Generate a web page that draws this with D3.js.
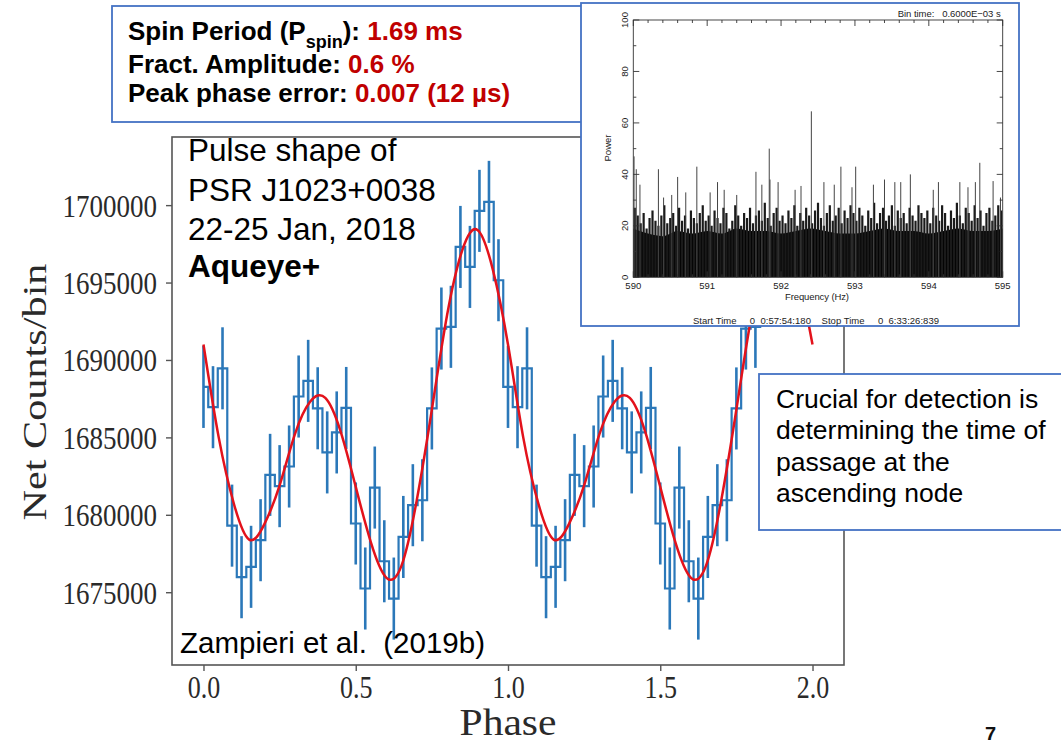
<!DOCTYPE html>
<html>
<head>
<meta charset="utf-8">
<script src="https://cdn.jsdelivr.net/npm/d3@7/dist/d3.min.js"></script>
<style>
  html, body { margin: 0; padding: 0; background: #fff; }
  svg { display: block; }
  text { white-space: pre; }
</style>
</head>
<body>
<svg id="slide" width="1061" height="740"></svg>
<script>
// ---------- Pulse profile of PSR J1023+0038 (Aqueye+, 22-25 Jan 2018) ----------
// Net counts in each of the 32 phase bins of one rotation; the profile is shown twice.
const binCounts = [
  1688260, 1686950, 1689460, 1679300, 1675970, 1676640, 1678360, 1682580,
  1681850, 1683120, 1687640, 1688650, 1686880, 1684030, 1685320, 1686900,
  1679440, 1675240, 1681760, 1677000, 1674590, 1678570, 1680620, 1680940,
  1686870, 1692030, 1692140, 1697300, 1696010, 1699630, 1700210, 1695150
];
const countError = 2650;          // 1-sigma error of every bin
const cycles = [0, 1];            // rotations drawn

// Two-harmonic fit to the profile, sampled along one cycle
const fitPhase = [0, 0.05, 0.10, 0.15, 0.20, 0.25, 0.30, 0.35, 0.40, 0.45,
                  0.50, 0.55, 0.60, 0.65, 0.70, 0.75, 0.80, 0.85, 0.90, 0.95];
const fitCounts = [1691000, 1685000, 1680700, 1678400, 1679400, 1681900, 1685200, 1687300, 1687550, 1685400,
                   1681800, 1678200, 1675950, 1676700, 1680900, 1686800, 1692900, 1697100, 1698400, 1695850];

const countTicks = [1675000, 1680000, 1685000, 1690000, 1695000, 1700000];
const phaseTicks = [0.0, 0.5, 1.0, 1.5, 2.0];

// ---------- Power spectrum around the spin frequency ----------
const freqStart = 590, freqEnd = 595, freqStep = 0.04;
// bulk of the noise spectrum, one value per 0.04 Hz
const powerForest = [
  27, 24, 21, 25, 19, 23, 26, 22, 20, 24, 28, 21, 23, 25, 20, 27, 22, 24, 19, 26, 23, 21, 25, 28, 22,
  24, 20, 26, 23, 21, 27, 25, 19, 22, 28, 24, 20, 25, 23, 27, 21, 24, 26, 22, 29, 23, 20, 25, 27, 22,
  24, 21, 26, 23, 28, 20, 25, 22, 27, 24, 21, 26, 29, 23, 20, 25, 28, 22, 24, 27, 21, 26, 23, 28, 25,
  22, 27, 24, 20, 26, 23, 29, 21, 25, 27, 22, 24, 28, 20, 26, 23, 25, 21, 27, 24, 22, 28, 25, 23, 26,
  21, 27, 24, 22, 28, 25, 20, 26, 23, 29, 24, 21, 27, 25, 22, 28, 23, 26, 20, 25, 27, 22, 24, 28, 26
];
// solid lower envelope of the spectrum, one value per 0.2 Hz
const floorStep = 0.2;
const powerFloor = [19, 17, 16, 18, 17, 18, 17, 19, 18, 18, 17, 18, 19, 18, 17, 17, 18, 19, 18, 18, 17, 18, 19, 18, 18, 19];
// the taller individual peaks [frequency (Hz), power]
const powerPeaks = [
  [590.01, 47], [590.04, 42], [590.09, 36], [590.34, 42], [590.41, 31], [590.52, 32], [590.60, 39],
  [590.71, 33], [590.86, 43], [591.04, 33], [591.14, 37], [591.23, 34], [591.40, 32], [591.66, 41],
  [591.74, 36], [591.84, 50], [591.85, 38], [591.96, 37], [592.19, 34], [592.27, 35.5], [592.41, 64.5],
  [592.58, 37], [592.72, 36], [592.81, 43], [592.96, 35], [593.01, 43], [593.25, 36], [593.40, 38],
  [593.54, 37], [593.62, 37], [593.75, 40], [594.06, 34], [594.13, 37], [594.42, 37], [594.53, 35],
  [594.63, 37], [594.69, 44.5], [594.87, 37.4], [594.97, 31]
];
const freqTicks = [590, 591, 592, 593, 594, 595];
const powerTicks = [0, 20, 40, 60, 80, 100];

// ---------- drawing ----------
const svg = d3.select("#slide");
const blue = "#2b78b9", red = "#e3121b", boxBlue = "#4472c4";
const serif = "'Liberation Serif', 'Times New Roman', serif";
const sans = "'Liberation Sans', Arial, Helvetica, sans-serif";

// main panel
const plot = { left: 172, right: 844, top: 137, bottom: 665 };
const x = d3.scaleLinear().domain([-0.1034, 2.1034]).range([plot.left, plot.right]);
const y = d3.scaleLinear().domain([1670300, 1704400]).range([plot.bottom, plot.top]);

const defs = svg.append("defs");
defs.append("clipPath").attr("id", "plotClip").append("rect")
  .attr("x", plot.left).attr("y", plot.top)
  .attr("width", plot.right - plot.left).attr("height", plot.bottom - plot.top);

const profile = cycles.flatMap(c => binCounts.map((v, i) => ({ phase: c + i / binCounts.length, v })));
const fit = cycles.flatMap(c => fitPhase.map((p, j) => ({ phase: c + p, v: fitCounts[j] })));
fit.push({ phase: cycles.length, v: fitCounts[0] });

const data = svg.append("g").attr("clip-path", "url(#plotClip)");
data.selectAll("line.err").data(profile).join("line")
  .attr("class", "err")
  .attr("x1", d => x(d.phase)).attr("x2", d => x(d.phase))
  .attr("y1", d => y(d.v - countError)).attr("y2", d => y(d.v + countError))
  .attr("stroke", blue).attr("stroke-width", 2.6);
data.append("path").datum(profile)
  .attr("d", d3.line().x(d => x(d.phase)).y(d => y(d.v)).curve(d3.curveStep))
  .attr("fill", "none").attr("stroke", blue).attr("stroke-width", 2.2);
data.append("path").datum(fit)
  .attr("d", d3.line().x(d => x(d.phase)).y(d => y(d.v)).curve(d3.curveNatural))
  .attr("fill", "none").attr("stroke", red).attr("stroke-width", 2.5);

// frame
svg.append("rect")
  .attr("x", plot.left).attr("y", plot.top)
  .attr("width", plot.right - plot.left).attr("height", plot.bottom - plot.top)
  .attr("fill", "none").attr("stroke", "#555").attr("stroke-width", 1.6);

// axes
const yAxis = svg.append("g").attr("transform", `translate(${plot.left},0)`)
  .call(d3.axisLeft(y).tickValues(countTicks).tickSize(6).tickFormat(d => String(d)));
yAxis.select(".domain").remove();
yAxis.selectAll(".tick line").attr("stroke", "#555").attr("stroke-width", 1.4);
yAxis.selectAll(".tick text")
  .attr("x", null).attr("dy", null).attr("y", null)
  .attr("transform", "translate(-15,11) scale(1,1.2)")
  .attr("text-anchor", "end")
  .style("font-family", serif).style("font-size", "27px").attr("fill", "#2a2a2a");

const xAxis = svg.append("g").attr("transform", `translate(0,${plot.bottom})`)
  .call(d3.axisBottom(x).tickValues(phaseTicks).tickSize(6).tickFormat(d3.format(".1f")));
xAxis.select(".domain").remove();
xAxis.selectAll(".tick line").attr("stroke", "#555").attr("stroke-width", 1.4);
xAxis.selectAll(".tick text")
  .attr("y", null).attr("dy", null)
  .attr("transform", "translate(0,33) scale(1,1.22)")
  .style("font-family", serif).style("font-size", "26px").attr("fill", "#2a2a2a");

svg.append("text")
  .attr("transform", "translate(46,392) rotate(-90)")
  .attr("text-anchor", "middle")
  .attr("textLength", 257).attr("lengthAdjust", "spacingAndGlyphs")
  .style("font-family", serif).style("font-size", "33px").attr("fill", "#2a2a2a")
  .text("Net Counts/bin");

svg.append("text")
  .attr("transform", "translate(508,735) scale(1,1.12)")
  .attr("text-anchor", "middle")
  .attr("textLength", 97).attr("lengthAdjust", "spacingAndGlyphs")
  .style("font-family", serif).style("font-size", "34px").attr("fill", "#2a2a2a")
  .text("Phase");

// annotation inside the panel
const note = svg.append("g").style("font-family", sans).style("font-size", "31.5px").attr("fill", "#000");
note.append("text").attr("x", 188).attr("y", 161).text("Pulse shape of");
note.append("text").attr("x", 188).attr("y", 200.5).text("PSR J1023+0038");
note.append("text").attr("x", 188).attr("y", 239.5).text("22-25 Jan, 2018");
note.append("text").attr("x", 188).attr("y", 277).style("font-weight", "bold").text("Aqueye+");
note.append("text").attr("x", 180).attr("y", 653).style("font-size", "29.5px").text("Zampieri et al.  (2019b)");

// ---------- summary box (top left) ----------
svg.append("rect").attr("x", 112).attr("y", 6).attr("width", 470).attr("height", 116)
  .attr("fill", "#fff").attr("stroke", boxBlue).attr("stroke-width", 1.8);
const sumText = svg.append("g").style("font-family", sans).style("font-weight", "bold")
  .style("font-size", "26px").attr("fill", "#000");
const l1 = sumText.append("text").attr("x", 128).attr("y", 39.5);
l1.append("tspan").text("Spin Period (P");
l1.append("tspan").attr("dy", 8).style("font-size", "18px").text("spin");
l1.append("tspan").attr("dy", -8).text("): ");
l1.append("tspan").attr("fill", "#c00000").text("1.69 ms");
const l2 = sumText.append("text").attr("x", 128).attr("y", 72.5);
l2.append("tspan").text("Fract. Amplitude: ");
l2.append("tspan").attr("fill", "#c00000").text("0.6 %");
const l3 = sumText.append("text").attr("x", 128).attr("y", 102);
l3.append("tspan").text("Peak phase error: ");
l3.append("tspan").attr("fill", "#c00000").text("0.007 (12 µs)");

// ---------- power spectrum inset ----------
svg.append("rect").attr("x", 581).attr("y", 3).attr("width", 438).attr("height", 323)
  .attr("fill", "#fff").attr("stroke", boxBlue).attr("stroke-width", 1.8);

const sp = { left: 633.3, right: 1002.7, top: 20, bottom: 277.3 };
const fx = d3.scaleLinear().domain([freqStart, freqEnd]).range([sp.left, sp.right]);
const fy = d3.scaleLinear().domain([0, 100]).range([sp.bottom, sp.top]);

defs.append("clipPath").attr("id", "specClip").append("rect")
  .attr("x", sp.left).attr("y", sp.top).attr("width", sp.right - sp.left).attr("height", sp.bottom - sp.top);

const spec = svg.append("g").attr("clip-path", "url(#specClip)");
const floorPts = powerFloor.map((p, i) => ({ f: freqStart + i * floorStep, p }));
spec.append("path").datum(floorPts)
  .attr("d", d3.area().x(d => fx(d.f)).y0(fy(0)).y1(d => fy(d.p)).curve(d3.curveMonotoneX))
  .attr("fill", "#000");
const forest = powerForest.map((p, i) => ({ f: freqStart + i * freqStep + 0.02, p }));
spec.selectAll("line.forest").data(forest).join("line")
  .attr("class", "forest")
  .attr("x1", d => fx(d.f)).attr("x2", d => fx(d.f))
  .attr("y1", fy(0)).attr("y2", d => fy(d.p))
  .attr("stroke", "#1a1a1a").attr("stroke-width", 2.2);
spec.selectAll("line.peak").data(powerPeaks).join("line")
  .attr("class", "peak")
  .attr("x1", d => fx(d[0])).attr("x2", d => fx(d[0]))
  .attr("y1", fy(0)).attr("y2", d => fy(d[1]))
  .attr("stroke", "#444").attr("stroke-width", 1);

svg.append("rect")
  .attr("x", sp.left).attr("y", sp.top).attr("width", sp.right - sp.left).attr("height", sp.bottom - sp.top)
  .attr("fill", "none").attr("stroke", "#333").attr("stroke-width", 0.9);

// inward ticks on all four sides
const tickG = svg.append("g").attr("stroke", "#333").attr("stroke-width", 0.9);
const fMinor = d3.range(0, 26).map(i => freqStart + i * 0.2);
fMinor.forEach(f => {
  const major = freqTicks.some(t => Math.abs(t - f) < 1e-6);
  const len = major ? 6 : 3;
  tickG.append("line").attr("x1", fx(f)).attr("x2", fx(f)).attr("y1", sp.bottom).attr("y2", sp.bottom - len);
  tickG.append("line").attr("x1", fx(f)).attr("x2", fx(f)).attr("y1", sp.top).attr("y2", sp.top + len);
});
d3.range(0, 11).map(i => i * 10).forEach(p => {
  const major = powerTicks.includes(p);
  const len = major ? 6 : 3;
  tickG.append("line").attr("x1", sp.left).attr("x2", sp.left + len).attr("y1", fy(p)).attr("y2", fy(p));
  tickG.append("line").attr("x1", sp.right).attr("x2", sp.right - len).attr("y1", fy(p)).attr("y2", fy(p));
});

const specText = svg.append("g").style("font-family", sans).style("font-size", "9.5px").attr("fill", "#222");
freqTicks.forEach(f => specText.append("text").attr("x", fx(f)).attr("y", 288.5)
  .attr("text-anchor", "middle").text(String(f)));
powerTicks.forEach(p => specText.append("text")
  .attr("transform", `translate(628,${fy(p)}) rotate(-90)`)
  .attr("text-anchor", "middle").text(String(p)));
specText.append("text").attr("x", 817).attr("y", 299.5).attr("text-anchor", "middle")
  .attr("textLength", 64).text("Frequency (Hz)");
specText.append("text").attr("transform", "translate(610.5,148) rotate(-90)")
  .attr("text-anchor", "middle").text("Power");
specText.append("text").attr("x", 1000.7).attr("y", 16.5).attr("text-anchor", "end")
  .attr("textLength", 103).text("Bin time:   0.6000E\u221203 s");
specText.append("text").attr("x", 693).attr("y", 324).attr("textLength", 246)
  .text("Start Time     0  0:57:54:180    Stop Time     0  6:33:26:839");

// ---------- comment box (right) ----------
svg.append("rect").attr("x", 759).attr("y", 374).attr("width", 310).attr("height", 156)
  .attr("fill", "#fff").attr("stroke", boxBlue).attr("stroke-width", 1.8);
const cbox = svg.append("g").style("font-family", sans).style("font-size", "26.5px").attr("fill", "#000");
["Crucial for detection is", "determining the time of", "passage at the", "ascending node"]
  .forEach((s, i) => cbox.append("text").attr("x", 776).attr("y", 408 + i * 31.4).text(s));

// slide number
svg.append("text").attr("x", 985).attr("y", 741)
  .style("font-family", sans).style("font-size", "20px").style("font-weight", "bold")
  .attr("fill", "#111").text("7");
</script>
</body>
</html>
